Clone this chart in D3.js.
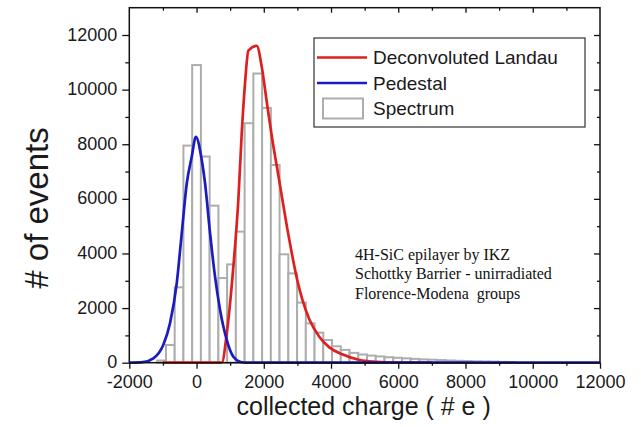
<!DOCTYPE html>
<html>
<head>
<meta charset="utf-8">
<script src="https://cdn.jsdelivr.net/npm/d3@7"></script>
<style>
  body { margin: 0; background: #fff; }
  svg text { font-family: "Liberation Sans", Arial, sans-serif; fill: #1a1a1a; }
</style>
</head>
<body>
<div class="chart"></div>
<script>
// histogram bins (bin centre, # e) and counts
const binCenters = [-1040, -780, -520, -260, 0, 260, 520, 780, 1040, 1300, 1560, 1820, 2080, 2340,
  2600, 2860, 3120, 3380, 3640, 3900, 4160, 4420, 4680, 4940, 5200, 5460, 5720, 5980, 6240, 6500,
  6760, 7020, 7280, 7540, 7800, 8060, 8320, 8580, 8840, 9100, 9360];
const binCounts = [80, 650, 2760, 7950, 10900, 7550, 5750, 3100, 3600, 4800, 8770, 10590, 9330, 7240,
  3970, 3270, 2200, 1440, 1100, 830, 600, 470, 360, 300, 260, 230, 200, 180, 160, 140,
  120, 110, 95, 80, 70, 60, 50, 45, 40, 30, 25];
const binWidth = 260;

// fitted curves
const landauX = [-1000, 750, 900, 1095, 1243, 1344, 1442, 1541, 1790, 1939, 2100, 2250, 2400, 2550,
  2700, 2850, 3000, 3150, 3350, 3650, 3950, 4350, 4850, 5350, 6000, 7000];
const landauY = [0, 0, 1080, 3515, 5958, 8400, 10231, 11424, 11607, 10838, 9450, 8200, 7100, 6000,
  4900, 3900, 3000, 2300, 1600, 950, 560, 300, 100, 35, 5, 0];
const pedestalX = [-2000, -1600, -1285, -990, -790, -590, -440, -290, -143, -20, 155, 253, 402, 550,
  700, 900, 1095, 1294, 1500, 12000];
const pedestalY = [0, 20, 160, 650, 1440, 2900, 4740, 6570, 7540, 8270, 7420, 6570, 4740, 3150,
  1930, 830, 220, 37, 0, 0];

const xTicks = [-2000, 0, 2000, 4000, 6000, 8000, 10000, 12000];
const yTicks = [0, 2000, 4000, 6000, 8000, 10000, 12000];
const legendNames = ["Deconvoluted Landau", "Pedestal", "Spectrum"];
const noteLines = ["4H-SiC epilayer by IKZ", "Schottky Barrier - unirradiated", "Florence-Modena  groups"];

const width = 641, height = 427;
const pl = 129.3, pr = 600, pt = 7.7, pb = 362.7;
const red = '#de1f1f', blue = '#1c1cbe', barGray = '#adadad';

const x = d3.scaleLinear().domain([-2000, 12000]).range([pl, pr]);
const y = d3.scaleLinear().domain([0, 13000]).range([pb, pt]);

const svg = d3.select('.chart').append('svg')
  .attr('width', width)
  .attr('height', height);

// bars
svg.append('g').selectAll('rect')
  .data(binCenters.map((c, i) => ({c: c, n: binCounts[i]})))
  .enter().append('rect')
  .attr('x', d => x(d.c - binWidth / 2))
  .attr('width', d => x(d.c + binWidth / 2) - x(d.c - binWidth / 2))
  .attr('y', d => y(d.n))
  .attr('height', d => y(0) - y(d.n))
  .attr('fill', '#fff')
  .attr('stroke', barGray)
  .attr('stroke-width', 2);

const line = d3.line().x(d => x(d[0])).y(d => y(d[1])).curve(d3.curveMonotoneX);

svg.append('path')
  .datum(landauX.map((v, i) => [v, landauY[i]]))
  .attr('d', line)
  .attr('fill', 'none')
  .attr('stroke', red)
  .attr('stroke-width', 2.7)
  .attr('stroke-linejoin', 'round');

svg.append('path')
  .datum(pedestalX.map((v, i) => [v, pedestalY[i]]))
  .attr('d', line)
  .attr('fill', 'none')
  .attr('stroke', blue)
  .attr('stroke-width', 2.7)
  .attr('stroke-linejoin', 'round');

// axes: left/bottom ticks outside, top/right ticks inside
const minorX = d3.range(-1000, 12000, 2000);
const minorY = d3.range(1000, 13000, 2000);
const fmt = d => d.toString();

svg.append('g').attr('transform', `translate(0,${pb})`)
  .call(d3.axisBottom(x).tickValues(xTicks).tickSize(6).tickSizeOuter(0).tickPadding(6.5).tickFormat(fmt));
svg.append('g').attr('transform', `translate(0,${pb})`)
  .call(d3.axisBottom(x).tickValues(minorX).tickSize(3).tickSizeOuter(0).tickFormat(''));
const gy = svg.append('g').attr('transform', `translate(${pl},0)`)
  .call(d3.axisLeft(y).tickValues(yTicks).tickSize(7).tickSizeOuter(0).tickPadding(5).tickFormat(fmt));
gy.selectAll('text').attr('dy', '0.28em');
svg.append('g').attr('transform', `translate(${pl},0)`)
  .call(d3.axisLeft(y).tickValues(minorY).tickSize(4).tickSizeOuter(0).tickFormat(''));
svg.append('g').attr('transform', `translate(0,${pt})`)
  .call(d3.axisTop(x).tickValues(xTicks.slice(1, -1)).tickSize(-5).tickSizeOuter(0).tickFormat(''));
svg.append('g').attr('transform', `translate(0,${pt})`)
  .call(d3.axisTop(x).tickValues(minorX).tickSize(-3).tickSizeOuter(0).tickFormat(''));
svg.append('g').attr('transform', `translate(${pr},0)`)
  .call(d3.axisRight(y).tickValues(yTicks.slice(1)).tickSize(-6).tickSizeOuter(0).tickFormat(''));
svg.append('g').attr('transform', `translate(${pr},0)`)
  .call(d3.axisRight(y).tickValues(minorY).tickSize(-3).tickSizeOuter(0).tickFormat(''));

svg.selectAll('.domain').remove();
svg.selectAll('.tick line').attr('stroke', '#111').attr('stroke-width', 1.3);
svg.selectAll('.tick text').style('font-size', '18px');

// frame
svg.append('rect')
  .attr('x', pl).attr('y', pt)
  .attr('width', pr - pl).attr('height', pb - pt)
  .attr('fill', 'none').attr('stroke', '#111').attr('stroke-width', 1.5);

// axis titles
svg.append('text')
  .attr('x', (pl + pr) / 2 - 1)
  .attr('y', 414.5)
  .attr('text-anchor', 'middle')
  .style('font-size', '25px')
  .text('collected charge ( # e )');

svg.append('text')
  .attr('transform', 'translate(48,208) rotate(-90)')
  .attr('text-anchor', 'middle')
  .style('font-size', '33px')
  .text('# of events');

// legend
const lg = svg.append('g').attr('transform', 'translate(314,38)');
lg.append('rect').attr('width', 271).attr('height', 89)
  .attr('fill', '#fff').attr('stroke', '#333').attr('stroke-width', 1.2);
const rows = lg.selectAll('g').data(legendNames).enter().append('g')
  .attr('transform', (d, i) => `translate(0,${19.5 + i * 25.5})`);
rows.each(function(d, i) {
  const g = d3.select(this);
  if (i < 2) {
    g.append('line').attr('x1', 3).attr('x2', 53).attr('y1', 0).attr('y2', 0)
      .attr('stroke', i == 0 ? red : blue).attr('stroke-width', 2.7);
  } else {
    g.append('rect').attr('x', 9).attr('y', -10).attr('width', 40).attr('height', 20)
      .attr('fill', '#fff').attr('stroke', barGray).attr('stroke-width', 2);
  }
  g.append('text').attr('x', 59).attr('y', 6.5).style('font-size', '19px').text(d);
});

// note
svg.append('g').selectAll('text').data(noteLines).enter().append('text')
  .attr('x', 355)
  .attr('y', (d, i) => 260 + i * 19.3)
  .style('font-family', '"Liberation Serif", "Times New Roman", serif')
  .style('font-size', '16px')
  .style('white-space', 'pre')
  .style('fill', '#111')
  .text(d => d);
</script>
</body>
</html>
